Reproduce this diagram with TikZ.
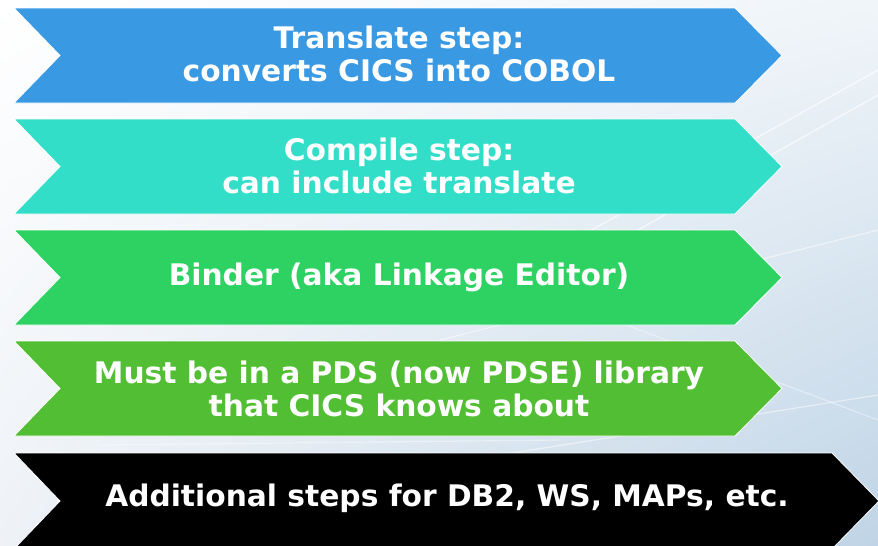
\documentclass[tikz,border=0pt]{standalone}
\usepackage{fontspec}
\setmainfont{DejaVu Sans}
\usetikzlibrary{shadings}
\definecolor{cBlue}{HTML}{3A99E3}
\definecolor{cTeal}{HTML}{32DEC8}
\definecolor{cGreen}{HTML}{2ED263}
\definecolor{cLime}{HTML}{52BE33}
\definecolor{bgBlue}{HTML}{BFD4E6}
\definecolor{bgTR}{HTML}{F0F5F9}
\definecolor{bgBL}{HTML}{EEF2F7}
\tikzset{
  chev/.style={draw=white, line width=0.8pt, line join=miter},
  steptext/.style={text=white, align=center, font=\bfseries\fontsize{29.7}{33}\selectfont, inner sep=0pt},
  streak/.style={white, line width=1.2pt, opacity=0.7}
}
\begin{document}
\begin{tikzpicture}[x=1pt,y=-1pt]
\useasboundingbox (0,0) rectangle (878,546);
% background
\shade[upper left=white, upper right=bgTR, lower left=bgBL, lower right=bgBlue] (0,0) rectangle (878,546);
\draw[streak] (520,270) -- (878,70);
\draw[streak] (540,285) -- (878,95);
\draw[streak, opacity=0.5] (440,340) -- (878,230);
\draw[streak, opacity=0.5] (500,455) -- (878,395);
\draw[streak, opacity=0.4] (560,300) -- (878,420);
\draw[streak, opacity=0.4] (100,445) -- (560,440);
% chevrons
\fill[cBlue, chev] (14,8) -- (735,8) -- (782,55.5) -- (735,103) -- (14,103) -- (60,55.5) -- cycle;
\fill[cTeal, chev] (14,119) -- (735,119) -- (782,166.5) -- (735,214) -- (14,214) -- (60,166.5) -- cycle;
\fill[cGreen, chev] (14,230) -- (735,230) -- (782,277.5) -- (735,325) -- (14,325) -- (60,277.5) -- cycle;
\fill[cLime, chev] (14,341) -- (735,341) -- (782,388.5) -- (735,436) -- (14,436) -- (60,388.5) -- cycle;
\fill[black, chev] (14,453) -- (832,453) -- (879,501) -- (832,549) -- (14,549) -- (60,501) -- cycle;
% texts
\node[steptext] (t1) at (399,54) {Translate step:\\converts CICS into COBOL};
\node[steptext] (t2) at (399,166) {Compile step:\\can include translate};
\node[steptext] (t3) at (399,277) {Binder (aka Linkage Editor)};
\node[steptext] (t4) at (399,389) {Must be in a PDS (now PDSE) library\\that CICS knows about};
\node[steptext] (t5) at (447,498) {Additional steps for DB2, WS, MAPs, etc.};
\end{tikzpicture}
\end{document}
